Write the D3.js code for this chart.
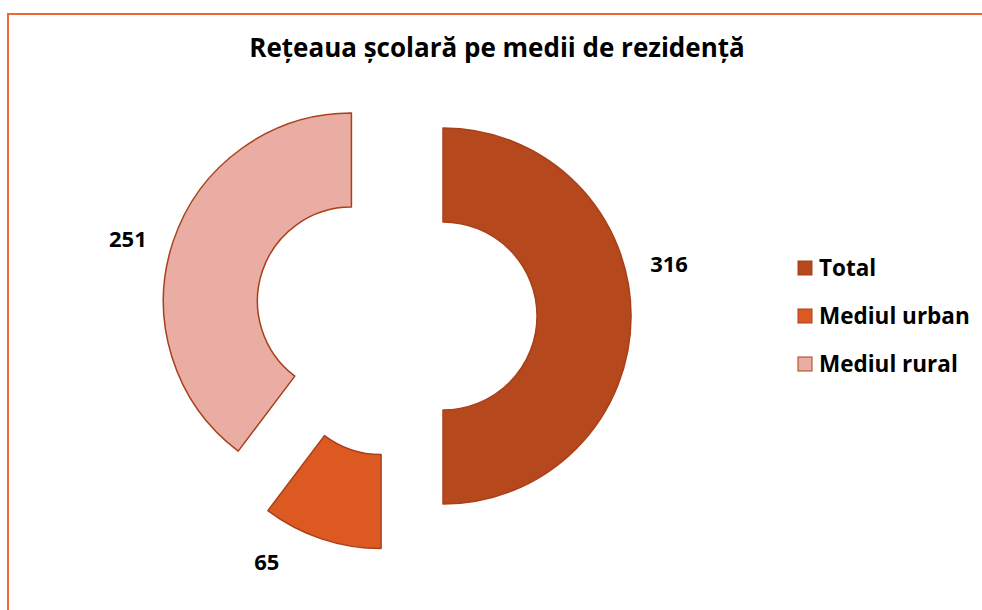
<!DOCTYPE html>
<html>
<head>
<meta charset="utf-8">
<script src="https://cdn.jsdelivr.net/npm/d3@7"></script>
<style>
  body { margin: 0; background: #fff; }
  svg { display: block; font-family: "Open Sans", "Noto Sans", sans-serif; }
</style>
</head>
<body>
<div id="chart"></div>
<script>
// Data
const categories = ["Total", "Mediul urban", "Mediul rural"];
const values = [316, 65, 251];
const colors = ["#B5481C", "#DC5A22", "#E9ADA3"];
const title = "Rețeaua școlară pe medii de rezidență";

// Set up dimensions
const width = 982;
const height = 610;
const center = {x: 396, y: 316};
const outerR = 188;
const innerR = 94;
const explode = 47;
const labelR = 232;
// small angle shifts (degrees) so labels sit like the original
const labelShift = [-13, 11, -3];

// Create SVG
const svg = d3.select("#chart")
  .append("svg")
  .attr("width", width)
  .attr("height", height);

// Chart border
svg.append("rect")
  .attr("x", 8)
  .attr("y", 14)
  .attr("width", width + 20)
  .attr("height", height + 20)
  .attr("fill", "none")
  .attr("stroke", "#E8683A")
  .attr("stroke-width", 2);

// Title
svg.append("text")
  .attr("x", 497)
  .attr("y", 57)
  .attr("text-anchor", "middle")
  .style("font-size", "26px")
  .style("font-weight", "bold")
  .text(title);

// Pie layout
const pie = d3.pie().sort(null).value(d => d)(values);
const arc = d3.arc().innerRadius(innerR).outerRadius(outerR);

const g = svg.append("g")
  .attr("transform", `translate(${center.x},${center.y})`);

const slices = g.selectAll("g.slice")
  .data(pie)
  .join("g")
  .attr("class", "slice")
  .attr("transform", d => {
    const a = (d.startAngle + d.endAngle) / 2;
    return `translate(${explode * Math.sin(a)},${-explode * Math.cos(a)})`;
  });

slices.append("path")
  .attr("d", arc)
  .attr("fill", (d, i) => colors[i])
  .attr("stroke", "#A9401A")
  .attr("stroke-width", 1.5)
  .attr("stroke-linejoin", "round");

// Data labels
slices.append("text")
  .attr("x", (d, i) => {
    const a = (d.startAngle + d.endAngle) / 2 + labelShift[i] * Math.PI / 180;
    return labelR * Math.sin(a);
  })
  .attr("y", (d, i) => {
    const a = (d.startAngle + d.endAngle) / 2 + labelShift[i] * Math.PI / 180;
    return -labelR * Math.cos(a);
  })
  .attr("dy", "0.35em")
  .attr("text-anchor", "middle")
  .style("font-size", "22px")
  .style("font-weight", "bold")
  .text(d => d.data);

// Legend
const legend = svg.append("g")
  .attr("transform", "translate(798,268)");

const legendRow = legend.selectAll("g")
  .data(categories)
  .join("g")
  .attr("transform", (_, i) => `translate(0,${i * 48})`);

legendRow.append("rect")
  .attr("x", 0)
  .attr("y", -7)
  .attr("width", 14)
  .attr("height", 14)
  .attr("fill", (d, i) => colors[i])
  .attr("stroke", "#A9401A")
  .attr("stroke-width", 1);

legendRow.append("text")
  .attr("x", 21)
  .attr("dy", "0.35em")
  .style("font-size", "22.5px")
  .style("font-weight", "bold")
  .text(d => d);
</script>
</body>
</html>
